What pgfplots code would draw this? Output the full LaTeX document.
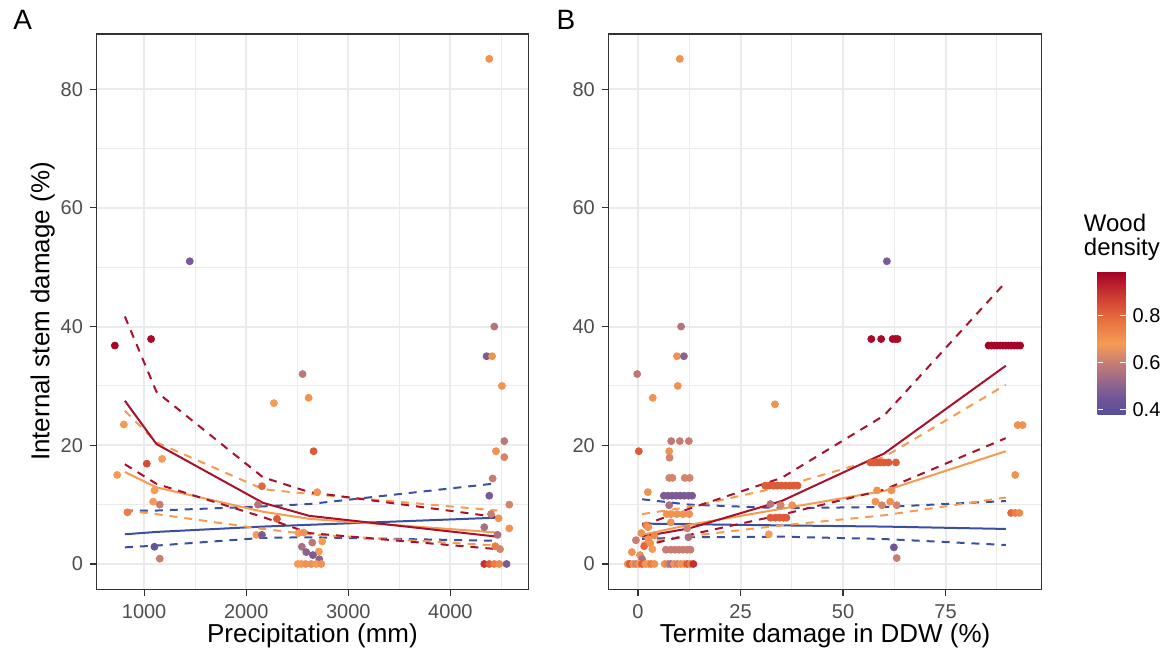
\documentclass[border=0pt]{standalone}
\usepackage{pgfplots}
\pgfplotsset{compat=1.18}
\usepackage{pgfplotstable}
\usepackage{fontspec}
\setmainfont{Liberation Sans}

\definecolor{gridc}{RGB}{235,235,235}
\definecolor{framec}{RGB}{51,51,51}
\definecolor{tickc}{RGB}{77,77,77}
\definecolor{lred}{RGB}{168,16,44}
\definecolor{lorange}{RGB}{246,155,80}
\definecolor{lblue}{RGB}{58,79,160}

\pgfplotstableread{
x y c
713 36.8 0.98
1068 37.9 0.97
1447 51.0 0.47
801 23.5 0.68
2271 27.1 0.68
1026 16.9 0.85
1176 17.7 0.68
736 15.0 0.68
1101 12.4 0.68
1088 10.5 0.68
1153 10.0 0.60
837 8.7 0.75
2154 13.1 0.80
2115 10.0 0.57
2301 7.6 0.82
2099 4.9 0.68
2154 4.9 0.47
1101 2.9 0.42
1153 0.9 0.60
2552 32.0 0.58
2611 28.0 0.70
2660 19.0 0.82
2696 12.1 0.70
2513 5.2 0.68
2562 5.3 0.66
2647 3.6 0.58
2745 3.8 0.68
2545 2.9 0.55
2588 2.0 0.50
2712 2.1 0.68
2653 1.5 0.47
2716 0.8 0.50
2506 0 0.68
2539 0 0.68
2581 0 0.70
2637 0 0.66
2686 0 0.68
2735 0 0.70
4381 85.1 0.70
4430 40.0 0.57
4355 35.0 0.47
4408 35.0 0.70
4505 30.0 0.70
4528 20.7 0.58
4447 19.0 0.70
4528 18.0 0.62
4414 14.4 0.60
4381 11.5 0.47
4577 10.0 0.62
4398 8.4 0.60
4472 7.7 0.70
4577 6.0 0.70
4332 6.2 0.55
4462 4.9 0.55
4440 3.0 0.75
4486 2.5 0.62
4332 0 0.90
4381 0 0.82
4430 0 0.75
4479 0 0.72
4550 0 0.47
}\ptsA

\pgfplotstableread{
x y c
10.2 85.1 0.70
60.7 51.0 0.47
10.5 40.0 0.57
9.5 35.0 0.70
11.2 35.0 0.50
56.9 37.9 0.97
59.3 37.9 0.97
62.1 37.9 0.97
62.8 37.9 0.97
63.3 37.9 0.97
85.5 36.8 0.98
86.2 36.8 0.98
86.9 36.8 0.98
87.6 36.8 0.98
88.3 36.8 0.98
89.0 36.8 0.98
89.7 36.8 0.98
90.4 36.8 0.98
91.1 36.8 0.98
91.8 36.8 0.98
92.5 36.8 0.98
93.2 36.8 0.98
-0.2 32.0 0.58
9.7 30.0 0.70
3.6 28.0 0.70
33.4 26.9 0.70
92.6 23.4 0.70
93.8 23.4 0.70
8.1 20.7 0.58
10.2 20.7 0.60
12.4 20.7 0.60
0.2 19.0 0.82
7.6 19.0 0.70
7.7 17.9 0.62
56.7 17.1 0.82
57.5 17.1 0.82
58.3 17.1 0.82
59.1 17.1 0.82
60.0 17.1 0.82
61.1 17.1 0.82
62.9 17.1 0.82
92.0 15.0 0.70
7.6 14.5 0.62
8.4 14.5 0.62
11.4 14.5 0.62
12.6 14.5 0.62
31.0 13.2 0.82
32.0 13.2 0.82
33.0 13.2 0.82
34.0 13.2 0.82
35.0 13.2 0.82
36.0 13.2 0.82
37.0 13.2 0.82
38.0 13.2 0.82
38.9 13.2 0.82
2.4 12.1 0.70
58.3 12.4 0.70
61.8 12.4 0.70
6.3 11.5 0.47
7.3 11.5 0.47
8.3 11.5 0.47
9.3 11.5 0.47
10.3 11.5 0.47
11.3 11.5 0.47
12.3 11.5 0.47
13.2 11.5 0.47
57.9 10.5 0.70
61.5 10.5 0.70
59.5 9.9 0.62
63.1 9.9 0.62
7.6 9.9 0.55
32.3 10.1 0.57
34.8 9.9 0.62
37.6 9.9 0.70
91.0 8.6 0.80
92.0 8.6 0.75
93.0 8.6 0.72
7.0 8.4 0.70
8.0 8.4 0.70
9.5 8.4 0.70
11.0 8.4 0.70
12.5 8.4 0.70
32.3 7.8 0.82
33.5 7.8 0.82
34.5 7.8 0.82
35.5 7.8 0.82
36.2 7.8 0.82
8.0 7.0 0.70
12.0 6.0 0.62
12.3 4.5 0.55
0.8 5.2 0.70
31.9 5.0 0.68
62.4 2.8 0.45
63.1 1.0 0.60
6.8 2.4 0.60
8.0 2.4 0.60
9.0 2.4 0.60
10.0 2.4 0.60
11.0 2.4 0.60
12.0 2.4 0.60
12.8 2.4 0.60
-1.5 2.0 0.70
0.5 1.5 0.65
1.5 3.0 0.80
2.5 4.2 0.70
3.5 2.5 0.68
-0.5 4.0 0.60
1.0 0.8 0.55
2.0 6.5 0.75
3.0 3.5 0.70
2.5 6.2 0.70
4.0 4.8 0.72
-2.5 0 0.70
-2.0 0 0.82
-1.2 0 0.70
-0.5 0 0.62
0.3 0 0.70
1.0 0 0.82
1.8 0 0.70
2.5 0 0.68
3.2 0 0.75
4.0 0 0.70
6.5 0 0.70
7.3 0 0.62
8.0 0 0.55
8.8 0 0.70
9.6 0 0.62
10.4 0 0.70
11.2 0 0.70
12.0 0 0.82
12.8 0 0.75
13.5 0 0.90
}\ptsB

\pgfplotsset{
  colormap={wd}{rgb255(38pt)=(85,78,155) rgb255(45pt)=(112,86,150) rgb255(52pt)=(150,104,140) rgb255(60pt)=(200,125,115) rgb255(68pt)=(245,155,85) rgb255(78pt)=(232,112,62) rgb255(88pt)=(205,60,50) rgb255(98.5pt)=(165,0,38)},
  panel/.style={
    scale only axis, height=278pt,
    ymin=-4.25, ymax=89.3,
    ytick={0,20,40,60,80}, minor ytick={10,30,50,70},
    grid=both,
    major grid style={line width=1pt, color=gridc},
    minor grid style={line width=0.5pt, color=gridc},
    axis line style={line width=0.6pt, color=framec},
    tick style={line width=0.6pt, color=framec},
    major tick length=3.3pt, minor tick length=0pt,
    tick align=outside, tick pos=left,
    ticklabel style={font=\fontsize{10}{12}\selectfont, color=tickc},
    xticklabel style={yshift=-1pt},
    /pgf/number format/assume math mode=true,
    /pgf/number format/1000 sep={},
    scaled ticks=false,
    colormap name=wd, point meta min=0.38, point meta max=0.985,
    every axis x label/.style={at={(axis description cs:0.5,-0.0953)}, anchor=base, font=\fontsize{13}{15}\selectfont},
  },
  pts/.style={scatter, only marks, mark=*, mark size=1.75pt, point meta=explicit,
    scatter/use mapped color={draw=mapped color, fill=mapped color}},
  fit/.style={no marks, line width=1pt},
  ci/.style={no marks, line width=1pt, dash pattern=on 4pt off 3.5pt},
}

\begin{document}
\begin{tikzpicture}
\path (0,0) rectangle (583.5pt,326.5pt);

\begin{axis}[panel, at={(48.35pt,31.5pt)}, anchor=south west, width=216.15pt,
  xmin=534, xmax=4763, xtick={1000,2000,3000,4000}, minor xtick={1500,2500,3500,4500},
  xlabel={Precipitation (mm)},
  ylabel={Internal stem damage (\%)},
  every axis y label/.style={at={(axis description cs:-0.125,0.5)}, rotate=90, anchor=center, font=\fontsize{13}{15}\selectfont},
]
\addplot[pts] table[x=x, y=y, meta=c] {\ptsA};
\addplot[fit, lblue] coordinates {(811,5.0) (1121,5.4) (2164,6.3) (2620,6.6) (4459,7.8)};
\addplot[ci, lblue] coordinates {(811,9.0) (1121,9.0) (2164,9.7) (2620,10.1) (4459,13.6)};
\addplot[ci, lblue] coordinates {(811,2.8) (1121,3.1) (2164,4.4) (2620,4.5) (4459,3.9)};
\addplot[fit, lorange] coordinates {(811,15.5) (1121,12.9) (2164,8.8) (2620,7.6) (4459,5.3)};
\addplot[ci, lorange] coordinates {(811,25.8) (1121,20.5) (2164,12.6) (2620,11.8) (4459,9.0)};
\addplot[ci, lorange] coordinates {(811,9.0) (1121,8.4) (2164,5.9) (2620,5.0) (4459,3.1)};
\addplot[fit, lred] coordinates {(811,27.5) (1121,20.2) (2164,10.3) (2620,8.1) (4459,4.6)};
\addplot[ci, lred] coordinates {(811,41.7) (1121,29.0) (2164,14.6) (2620,12.1) (4459,7.9)};
\addplot[ci, lred] coordinates {(811,16.8) (1121,13.5) (2164,7.9) (2620,5.2) (4459,2.5)};
\end{axis}

\begin{axis}[panel, at={(304.65pt,31.5pt)}, anchor=south west, width=217pt,
  xmin=-7.2, xmax=98.5, xtick={0,25,50,75}, minor xtick={12.5,37.5,62.5,87.5},
  xlabel={Termite damage in DDW (\%)},
  colorbar right,
  colorbar style={
    at={(parent axis.south east)}, anchor=south west, xshift=19.35pt, yshift=87.5pt,
    scale only axis, width=14pt, height=71.5pt,
    ytick={0.4,0.6,0.8}, yticklabel pos=right, ytick pos=both,
    yticklabel style={font=\fontsize{10}{12}\selectfont, color=black},
    /pgf/number format/assume math mode=true,
    /pgf/number format/fixed, /pgf/number format/precision=1,
    axis line style={draw=none},
    major tick length=2.8pt, tick align=inside,
    ytick style={draw=white, line width=0.6pt},
  },
]
\addplot[pts] table[x=x, y=y, meta=c] {\ptsB};
\addplot[fit, lblue] coordinates {(1,6.8) (12.5,6.7) (35,6.5) (60,6.3) (89.7,5.9)};
\addplot[ci, lblue] coordinates {(1,10.9) (12.5,10.0) (35,9.4) (60,9.6) (89.7,10.6)};
\addplot[ci, lblue] coordinates {(1,4.2) (12.5,4.5) (35,4.6) (60,4.2) (89.7,3.2)};
\addplot[fit, lorange] coordinates {(1,4.9) (12.5,6.6) (35,9.3) (60,12.3) (89.7,19.0)};
\addplot[ci, lorange] coordinates {(1,8.4) (12.5,9.6) (35,13.0) (60,18.0) (89.7,30.2)};
\addplot[ci, lorange] coordinates {(1,3.6) (12.5,4.7) (35,6.5) (60,8.2) (89.7,11.2)};
\addplot[fit, lred] coordinates {(1,4.6) (12.5,6.0) (35,10.6) (60,18.6) (89.7,33.4)};
\addplot[ci, lred] coordinates {(1,6.5) (12.5,9.3) (35,14.5) (60,25.0) (89.7,47.5)};
\addplot[ci, lred] coordinates {(1,3.0) (12.5,4.9) (35,8.3) (60,12.5) (89.7,21.2)};
\end{axis}

\node[anchor=north west, inner sep=0pt, font=\fontsize{14}{16}\selectfont] at (6.5pt,321.5pt) {A};
\node[anchor=north west, inner sep=0pt, font=\fontsize{14}{16}\selectfont] at (278.5pt,321.5pt) {B};
\node[anchor=north west, inner sep=0pt, align=left, font=\fontsize{12}{12}\selectfont] at (542.5pt,219.5pt) {Wood\\density};
\end{tikzpicture}
\end{document}
